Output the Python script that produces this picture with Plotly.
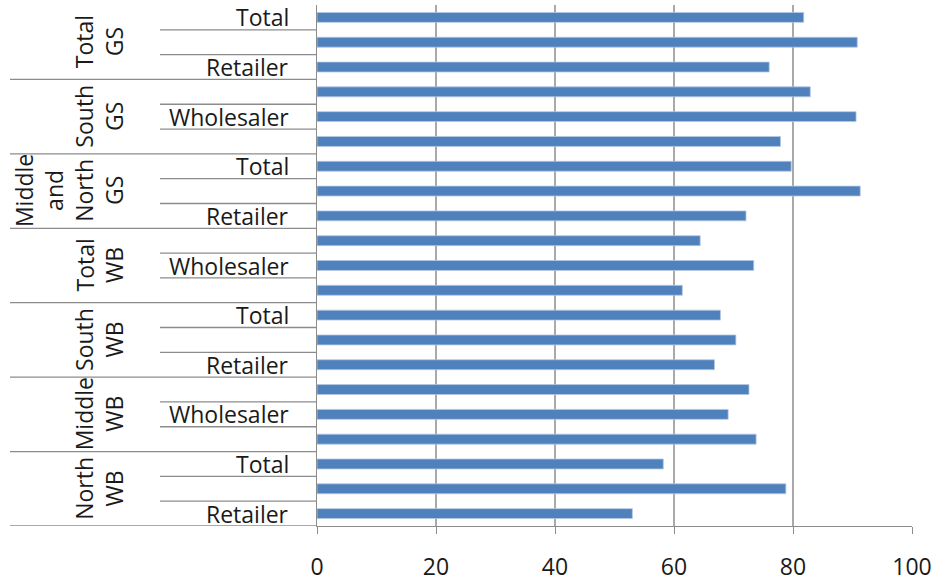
import plotly.graph_objects as go

# Survey groups, listed bottom to top as they appear on the chart
groups = ["North<br>WB", "Middle<br>WB", "South<br>WB", "Total<br>WB",
          "Middle<br>and<br>North<br>GS", "South<br>GS", "Total<br>GS"]
# Within each group, bars are stacked bottom to top in this order
subgroups = ["Retailer", "Wholesaler", "Total"]

retailer = [53.0, 73.8, 66.8, 61.4, 72.1, 77.9, 76.0]
wholesaler = [78.8, 69.1, 70.4, 73.4, 91.3, 90.6, 90.8]
total = [58.2, 72.6, 67.8, 64.4, 79.7, 82.9, 81.8]

x_ticks = [0, 20, 40, 60, 80, 100]

FONT = "Open Sans"
TEXT = "#1a1a1a"
GRID = "#a9a9a9"
AXIS = "#8c8c8c"
BAR = "#4f81bd"
SIZE = 23

series = {"Retailer": retailer, "Wholesaler": wholesaler, "Total": total}

values, positions, sub_labels = [], [], []
for g in range(len(groups)):
    for s, name in enumerate(subgroups):
        positions.append(g * len(subgroups) + s)
        values.append(series[name][g])
        sub_labels.append(name)

n = len(positions)

fig = go.Figure(go.Bar(
    x=values, y=positions, orientation="h", width=0.4,
    marker=dict(color=BAR, line=dict(color="#b4c8e2", width=0.8)),
    hoverinfo="x",
))

# Left-edge pixel geometry expressed in paper units of the plot area
plot_left, plot_right = 317, 912
span = plot_right - plot_left


def px(p):
    return (p - plot_left) / span


annotations = []
# Inner category labels: every other bar, starting with the top one
for i, (pos, lab) in enumerate(zip(positions, sub_labels)):
    if (n - 1 - i) % 2 == 0:
        annotations.append(dict(
            x=px(291), xref="paper", xanchor="right",
            y=pos, yref="y", yanchor="middle",
            text=lab, showarrow=False,
            font=dict(family=FONT, size=SIZE, color=TEXT),
        ))

# Outer group labels, rotated
for g, name in enumerate(groups):
    center = g * len(subgroups) + (len(subgroups) - 1) / 2
    annotations.append(dict(
        x=px(132), xref="paper", xanchor="right",
        y=center, yref="y", yanchor="middle",
        text=name, textangle=-90, align="center", showarrow=False,
        font=dict(family=FONT, size=SIZE, color=TEXT),
    ))

shapes = []
# Separator lines between bars inside a group, and between groups
for k in range(n):
    b = k - 0.5
    if k % len(subgroups) == 0:
        x0 = px(10)
    else:
        x0 = px(160)
    shapes.append(dict(type="line", xref="paper", yref="y",
                       x0=x0, x1=0, y0=b, y1=b,
                       line=dict(color=AXIS, width=1.3)))

fig.update_layout(
    width=937, height=582,
    margin=dict(l=plot_left, r=937 - plot_right, t=5, b=56),
    paper_bgcolor="white", plot_bgcolor="white",
    showlegend=False,
    bargap=0.6,
    annotations=annotations,
    shapes=shapes,
    xaxis=dict(
        range=[0, 100], tickvals=x_ticks, ticktext=[str(v) for v in x_ticks],
        showgrid=True, gridcolor=GRID, gridwidth=1.5,
        zeroline=False, showline=True, linecolor=AXIS, linewidth=1.3,
        ticks="outside", ticklen=7, tickcolor=AXIS, tickwidth=1.3,
        tickfont=dict(family=FONT, size=SIZE, color=TEXT),
        ticklabelstandoff=13, automargin=False,
        fixedrange=True,
    ),
    yaxis=dict(
        range=[-0.5, n - 0.5], showticklabels=False, showgrid=False,
        zeroline=False, showline=True, linecolor=AXIS, linewidth=1.3,
        ticks="", fixedrange=True, automargin=False,
    ),
)

fig.write_html("out.html")
